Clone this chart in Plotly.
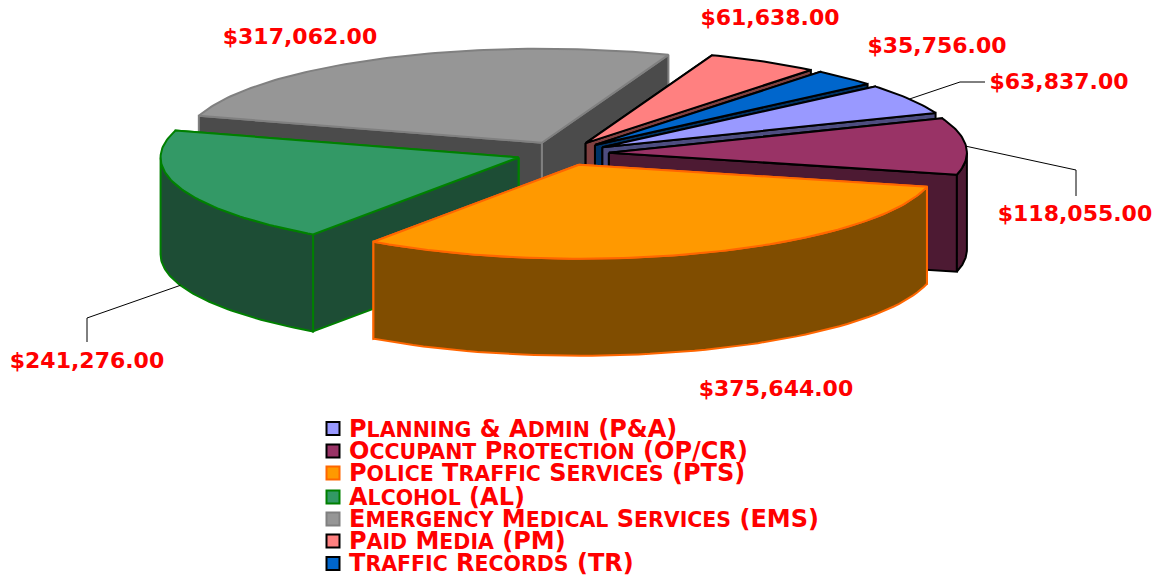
import math
import re
import plotly.graph_objects as go

categories = ["Planning & Admin (P&A)", "Occupant Protection (OP/CR)", "Police Traffic Services (PTS)",
              "Alcohol (AL)", "Emergency Medical Services (EMS)", "Paid Media (PM)", "Traffic Records (TR)"]
values = [63837, 118055, 375644, 241276, 317062, 61638, 35756]
value_labels = ["$63,837.00", "$118,055.00", "$375,644.00", "$241,276.00", "$317,062.00", "$61,638.00", "$35,756.00"]

top_colors = ["#9999FF", "#993366", "#FF9900", "#339966", "#969696", "#FF8080", "#0066CC"]
side_colors = ["#4D4D80", "#4D1A33", "#804D00", "#1D4D35", "#4B4B4B", "#804040", "#003366"]
edge_colors = ["#000000", "#000000", "#FF6600", "#008000", "#808080", "#000000", "#000000"]
paint_order = [4, 5, 6, 0, 1, 3, 2]

label_x = [1059, 1075, 776, 87, 300, 770, 937]
label_y = [83, 215, 390, 362, 38, 19, 47]
legend_y = [428.5, 451, 473, 497, 519, 541, 563.5]
legend_text_y = [431, 453, 475, 499, 521, 543, 565]
leaders = {0: ([960, 985], [82, 82], 0), 1: ([1076, 1076], [170, 196], 0), 3: ([87, 87], [318, 342], 1)}

CX, CY, RX, RY, DEPTH, FIRST = 562.5, 153.5, 358, 94, 97, 49.6
EXPLODE_X, EXPLODE_Y = 46.5, 12

total = sum(values)
fig = go.Figure()


def rim(a, ax, ay):
    r = math.radians(a)
    return ax + RX * math.sin(r), ay - RY * math.cos(r)


def face(xs, ys, fill, line, width=2):
    fig.add_trace(go.Scatter(x=xs + xs[:1], y=ys + ys[:1], mode="lines", fill="toself", fillcolor=fill,
                             line=dict(color=line, width=width), showlegend=False, hoverinfo="skip"))


def small_caps(text):
    # lower-case runs are set smaller; the text itself is shown upper-case by textcase
    safe = text.replace("&", "&amp;")
    return re.sub(r"(?<![&a-z])([a-z]+)(?!;)", r'<span style="font-size:20.5px">\1</span>', safe)


spans, start = [], FIRST
for v in values:
    sweep = v / total * 360
    spans.append((start, start + sweep))
    start += sweep

geom = []
for a0, a1 in spans:
    mid = math.radians((a0 + a1) / 2)
    geom.append((CX + EXPLODE_X * math.sin(mid), CY - EXPLODE_Y * math.cos(mid)))

for i in paint_order:
    a0, a1 = spans[i]
    ax, ay = geom[i]
    # radial walls, the one further back first
    for a in sorted([a0, a1], key=lambda t: -math.cos(math.radians(t))):
        rx, ry = rim(a, ax, ay)
        face([ax, rx, rx, ax], [ay, ry, ry + DEPTH, ay + DEPTH], side_colors[i], edge_colors[i])
    # outer wall: the part of the arc that faces the viewer
    lo = max(a0, 90)
    hi = min(a1, 270)
    if hi > lo:
        n = 60
        arc = [rim(lo + (hi - lo) * k / n, ax, ay) for k in range(n + 1)]
        xs = [p[0] for p in arc] + [p[0] for p in arc[::-1]]
        ys = [p[1] for p in arc] + [p[1] + DEPTH for p in arc[::-1]]
        face(xs, ys, side_colors[i], edge_colors[i])
    # top face
    n = max(8, int(a1 - a0))
    arc = [rim(a0 + (a1 - a0) * k / n, ax, ay) for k in range(n + 1)]
    face([ax] + [p[0] for p in arc], [ay] + [p[1] for p in arc], top_colors[i], edge_colors[i])

# leader lines start on the slice rims
for i, (ex, ey, on_base) in leaders.items():
    a0, a1 = spans[i]
    sx, sy = rim((a0 + a1) / 2, *geom[i])
    sy += DEPTH * on_base
    fig.add_trace(go.Scatter(x=[sx] + ex, y=[sy] + ey, mode="lines", line=dict(color="#000000", width=1),
                             showlegend=False, hoverinfo="skip"))

fig.add_trace(go.Scatter(x=label_x, y=label_y, mode="text", text=value_labels, textposition="middle center",
                         textfont=dict(family="DejaVu Sans", size=22, color="#FF0000", weight="bold"),
                         showlegend=False, hoverinfo="skip"))

# legend
fig.add_trace(go.Scatter(x=[333] * len(categories), y=legend_y, mode="markers",
                         marker=dict(symbol="square", size=13, color=top_colors,
                                     line=dict(color=edge_colors, width=2)),
                         showlegend=False, hoverinfo="skip"))
fig.add_trace(go.Scatter(x=[349] * len(categories), y=legend_text_y, mode="text",
                         text=[small_caps(c) for c in categories], textposition="middle right",
                         textfont=dict(family="DejaVu Sans", size=24, color="#FF0000", weight="bold",
                                       textcase="upper"),
                         showlegend=False, hoverinfo="skip"))

fig.update_layout(width=1159, height=576, autosize=False, margin=dict(l=0, r=0, t=0, b=0),
                  paper_bgcolor="#FFFFFF", plot_bgcolor="#FFFFFF", showlegend=False,
                  xaxis=dict(range=[0, 1159], visible=False, fixedrange=True),
                  yaxis=dict(range=[576, 0], visible=False, fixedrange=True))
fig.write_html("out.html", config={"displayModeBar": False},
               post_script="document.body.style.margin='0';document.body.style.overflow='hidden';")
